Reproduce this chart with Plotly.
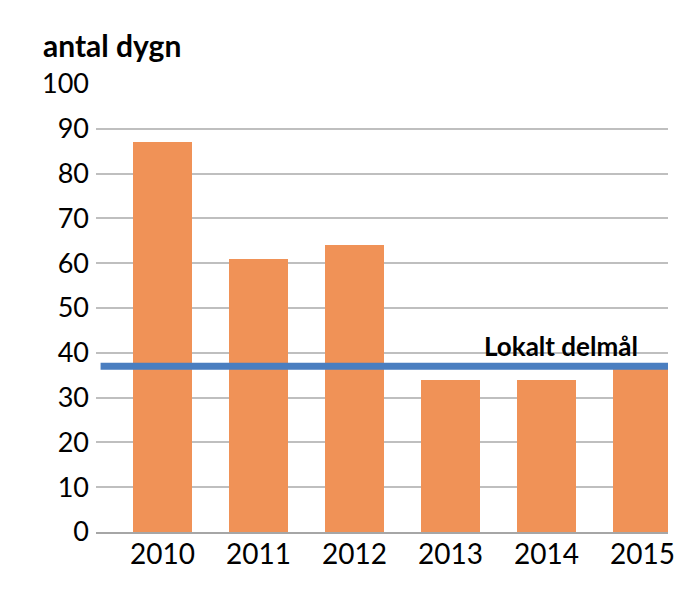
import plotly.graph_objects as go

years = ["2010", "2011", "2012", "2013", "2014", "2015"]
values = [87, 61, 64, 34, 34, 37]
target = 37
target_label = "Lokalt delmål"
y_title = "antal dygn"
y_ticks = [0, 10, 20, 30, 40, 50, 60, 70, 80, 90, 100]

W, H = 697, 591
L, R, T, B = 96, 29, 84, 59
plot_w = W - L - R
step = 96.0
x0 = -(162.5 - L) / step
x1 = x0 + plot_w / step

xs = list(range(len(years)))

fig = go.Figure()
fig.add_trace(go.Bar(x=xs, y=values, width=0.615, marker=dict(color="#F09257", line=dict(width=0)),
                     showlegend=False, hoverinfo="skip"))

fig.add_shape(type="line", xref="x domain", yref="y", x0=0.008, x1=1.0, y0=target, y1=target,
              line=dict(color="#4A7EC0", width=7), layer="above")

fig.add_annotation(xref="paper", yref="y", x=(640 - L) / plot_w, y=target, yshift=20,
                   xanchor="right", yanchor="middle", showarrow=False,
                   text="<b>%s</b>" % target_label,
                   font=dict(family="Lato", size=26, color="#000000"))

fig.add_annotation(xref="paper", yref="paper", x=(41 - L) / plot_w, y=(H - B - 45) / (H - T - B),
                   xanchor="left", yanchor="middle", showarrow=False,
                   text="<b>%s</b>" % y_title,
                   font=dict(family="Lato", size=30, color="#000000"))

fig.update_layout(
    width=W, height=H,
    margin=dict(l=L, r=R, t=T, b=B, pad=0),
    paper_bgcolor="white", plot_bgcolor="white",
    bargap=0,
    font=dict(family="Lato", size=27, color="#000000"),
    xaxis=dict(range=[x0, x1], tickmode="array", tickvals=xs, ticktext=years,
               showgrid=False, zeroline=False, showline=True, linecolor="#a6a6a6", linewidth=2,
               ticks="", ticklabelstandoff=-4, tickfont=dict(size=28), fixedrange=True),
    yaxis=dict(range=[0, 100], tickmode="array", tickvals=y_ticks, showgrid=True,
               gridcolor="#bfbfbf", gridwidth=2, zeroline=False, showline=False,
               ticks="", ticklabelstandoff=6, fixedrange=True),
)

fig.write_html("out.html")
